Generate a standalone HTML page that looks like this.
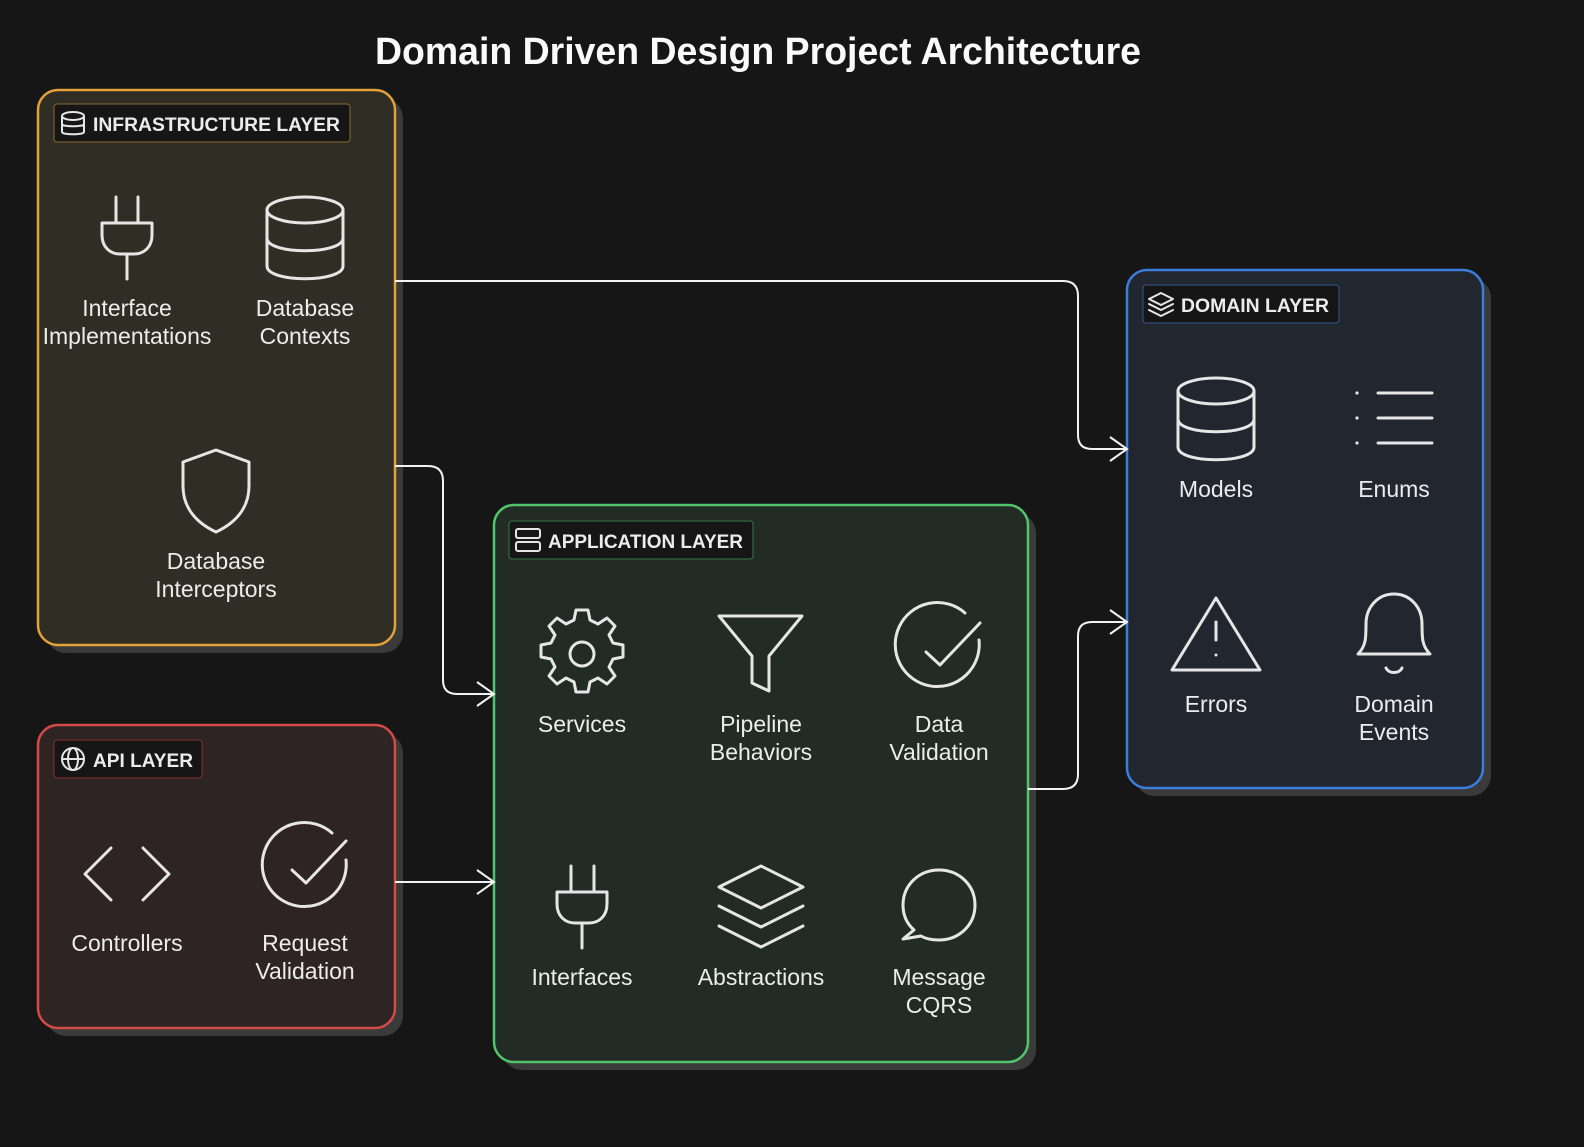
<!DOCTYPE html>
<html><head><meta charset="utf-8"><style>
html,body{margin:0;padding:0;background:#161616;}
svg{display:block}
text{font-family:"Liberation Sans",sans-serif;fill:#ececec}
.ic{fill:none;stroke:#e6e6e6;stroke-width:3;stroke-linecap:round;stroke-linejoin:round}
.lb{font-size:23px;text-anchor:middle}
.hd{font-size:19px;font-weight:bold}
.con{fill:none;stroke:#f2f2f2;stroke-width:2}
</style></head><body>
<svg width="1584" height="1147" viewBox="0 0 1584 1147">
<rect width="1584" height="1147" fill="#161616"/>
<text x="758" y="64" text-anchor="middle" textLength="766" lengthAdjust="spacingAndGlyphs" style="font-size:38px;font-weight:bold;fill:#fafafa">Domain Driven Design Project Architecture</text>

<rect x="46" y="98" width="357" height="555" rx="20" fill="#3a3a3a"/>
<rect x="1135" y="278" width="356" height="518" rx="20" fill="#3a3a3a"/>
<rect x="502" y="513" width="534" height="557" rx="20" fill="#3a3a3a"/>
<rect x="46" y="733" width="357" height="303" rx="20" fill="#3a3a3a"/>

<rect x="38" y="90" width="357" height="555" rx="20" fill="#302d25" stroke="#e3a138" stroke-width="2.5"/>
<rect x="1127" y="270" width="356" height="518" rx="20" fill="#22262e" stroke="#3b7ddc" stroke-width="2.5"/>
<rect x="494" y="505" width="534" height="557" rx="20" fill="#232b25" stroke="#52c46c" stroke-width="2.5"/>
<rect x="38" y="725" width="357" height="303" rx="20" fill="#2e2424" stroke="#d44a48" stroke-width="2.5"/>

<path class="con" d="M395 281 H1063 Q1078 281 1078 296 V435 Q1078 449 1092 449 H1127"/>
<path class="con" d="M1110 437 L1127 449 L1110 461"/>
<path class="con" d="M395 466 H428 Q443 466 443 481 V680 Q443 694 457 694 H494"/>
<path class="con" d="M477 682 L494 694 L477 706"/>
<path class="con" d="M1028 789 H1063 Q1078 789 1078 774 V636 Q1078 622 1092 622 H1127"/>
<path class="con" d="M1110 610 L1127 622 L1110 634"/>
<path class="con" d="M395 882 H494"/>
<path class="con" d="M477 870 L494 882 L477 894"/>

<rect x="54" y="104" width="296" height="38" rx="3" fill="#161616" stroke="#8a6a30" stroke-width="1"/>
<g class="ic" style="stroke-width:2"><ellipse cx="73" cy="116" rx="11" ry="4"/><path d="M62 116v16c0 3 22 3 22 0v-16M62 124c0 3 22 3 22 0"/></g>
<text x="93" y="131" class="hd" textLength="247" lengthAdjust="spacingAndGlyphs">INFRASTRUCTURE LAYER</text>

<rect x="1143" y="285" width="196" height="38" rx="3" fill="#161616" stroke="#2f5a9a" stroke-width="1"/>
<g class="ic" style="stroke-width:2"><path d="M1161 293l12 6-12 6-12-6z M1149 304l12 6 12-6 M1149 310l12 6 12-6"/></g>
<text x="1181" y="312" class="hd" textLength="148" lengthAdjust="spacingAndGlyphs">DOMAIN LAYER</text>

<rect x="509" y="521" width="244" height="38" rx="3" fill="#161616" stroke="#367a48" stroke-width="1"/>
<g class="ic" style="stroke-width:2"><rect x="516" y="529" width="24" height="9" rx="2"/><rect x="516" y="542" width="24" height="9" rx="2"/></g>
<text x="548" y="548" class="hd" textLength="195" lengthAdjust="spacingAndGlyphs">APPLICATION LAYER</text>

<rect x="54" y="740" width="148" height="38" rx="3" fill="#161616" stroke="#8a3030" stroke-width="1"/>
<g class="ic" style="stroke-width:2"><circle cx="73" cy="759" r="11"/><ellipse cx="73" cy="759" rx="5" ry="11"/><path d="M62 759h22"/></g>
<text x="93" y="767" class="hd" textLength="100" lengthAdjust="spacingAndGlyphs">API LAYER</text>

<g class="ic"><path d="M116 197v26M138 197v26M102 223h50v12c0 12-8 19-18 19h-14c-10 0-18-7-18-19z M127 254v25"/></g>
<text x="127" y="316" class="lb">Interface</text><text x="127" y="344" class="lb">Implementations</text>
<g class="ic"><ellipse cx="305" cy="210" rx="38" ry="13"/><path d="M267 210v56c0 17 76 17 76 0v-56 M267 238c0 17 76 17 76 0"/></g>
<text x="305" y="316" class="lb">Database</text><text x="305" y="344" class="lb">Contexts</text>
<g class="ic"><path d="M216 450l33 12v24c0 24-16 38-33 46-17-8-33-22-33-46v-24z"/></g>
<text x="216" y="569" class="lb">Database</text><text x="216" y="597" class="lb">Interceptors</text>

<g class="ic"><ellipse cx="1216" cy="391" rx="38" ry="13"/><path d="M1178 391v56c0 17 76 17 76 0v-56 M1178 419c0 17 76 17 76 0"/></g>
<text x="1216" y="497" class="lb">Models</text>
<g class="ic"><path d="M1378 393h54M1378 418h54M1378 443h54"/></g>
<g fill="#e6e6e6"><circle cx="1357" cy="393" r="1.6"/><circle cx="1357" cy="418" r="1.6"/><circle cx="1357" cy="443" r="1.6"/></g>
<text x="1394" y="497" class="lb">Enums</text>
<g class="ic"><path d="M1216 598l44 72h-88z M1216 622v18 M1216 655v0"/></g>
<text x="1216" y="712" class="lb">Errors</text>
<g class="ic"><path d="M1358 654c8-8 8-16 8-30 0-17 12-30 28-30s28 13 28 30c0 14 0 22 8 30z M1386 668c3 6 13 6 16 0"/></g>
<text x="1394" y="712" class="lb">Domain</text><text x="1394" y="740" class="lb">Events</text>

<g class="ic"><path d="M576 610h12l2 10 8 4 9-6 8 8-6 9 4 8 10 2v12l-10 2-4 8 6 9-8 8-9-6-8 4-2 10h-12l-2-10-8-4-9 6-8-8 6-9-4-8-10-2v-12l10-2 4-8-6-9 8-8 9 6 8-4z"/><circle cx="582" cy="654" r="12"/></g>
<text x="582" y="732" class="lb">Services</text>
<g class="ic"><path d="M719 616h83l-33 40v35l-17-8v-27z"/></g>
<text x="761" y="732" class="lb">Pipeline</text><text x="761" y="760" class="lb">Behaviors</text>
<g class="ic"><path d="M979 640a42 42 0 1 1-14-27 M926 652l14 13 40-42"/></g>
<text x="939" y="732" class="lb">Data</text><text x="939" y="760" class="lb">Validation</text>
<g class="ic"><path d="M571 866v26M594 866v26M557 892h50v12c0 12-8 19-18 19h-14c-10 0-18-7-18-19z M582 923v25"/></g>
<text x="582" y="985" class="lb">Interfaces</text>
<g class="ic"><path d="M761 866l42 21-42 21-42-21z M719 906l42 21 42-21 M719 926l42 21 42-21"/></g>
<text x="761" y="985" class="lb">Abstractions</text>
<g class="ic"><path d="M914 930c-8-7-11-16-11-25 0-20 16-35 36-35s36 15 36 35-16 35-36 35c-7 0-13-1-18-4l-18 3z"/></g>
<text x="939" y="985" class="lb">Message</text><text x="939" y="1013" class="lb">CQRS</text>

<g class="ic"><path d="M111 848l-26 26 26 26 M143 848l26 26-26 26"/></g>
<text x="127" y="951" class="lb">Controllers</text>
<g class="ic"><path d="M346 860a42 42 0 1 1-14-27 M292 870l14 13 40-42"/></g>
<text x="305" y="951" class="lb">Request</text><text x="305" y="979" class="lb">Validation</text>
</svg>
</body></html>
